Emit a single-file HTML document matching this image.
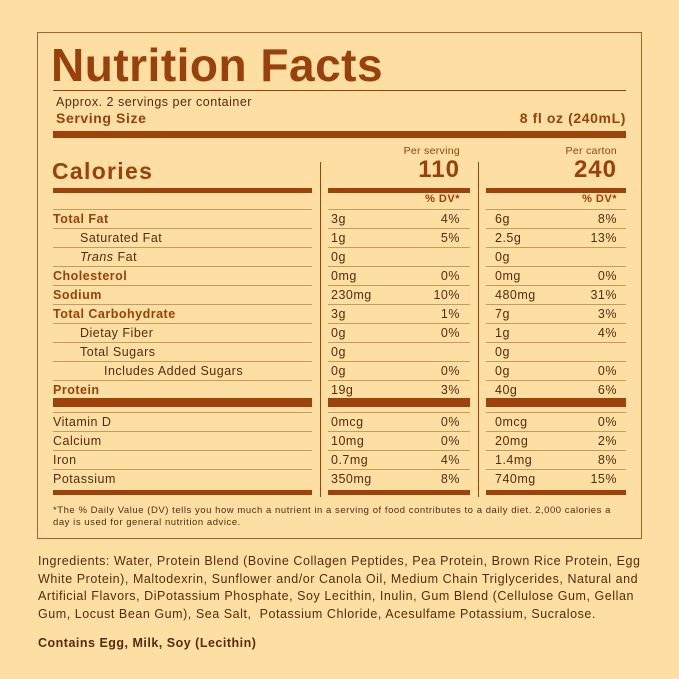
<!DOCTYPE html><html><head><style>
*{margin:0;padding:0;box-sizing:border-box}
body{width:679px;height:679px;background:#fddfa4;font-family:"Liberation Sans",sans-serif;color:#5a2a0c;position:relative;overflow:hidden}
.a{position:absolute;white-space:nowrap}
.b{color:#9a400c}
.bar{position:absolute;background:#9e420d}
.ln{position:absolute;height:1px;background:#c89a60}
.r{font-size:12.5px;line-height:19px;height:19px;letter-spacing:0.5px}
.bold{font-weight:bold}
</style></head><body>
<div class="a" style="left:37px;top:32px;width:605px;height:507px;border:1px solid #a8622a"></div>
<div class="a b bold" style="left:51px;top:40px;font-size:46px;line-height:50px;letter-spacing:0.5px">Nutrition Facts</div>
<div class="bar" style="left:53px;top:90px;width:573px;height:1px"></div>
<div class="a" style="left:56px;top:95px;font-size:12.5px;letter-spacing:0.5px">Approx. 2 servings per container</div>
<div class="a b bold" style="left:56px;top:110px;font-size:14px;letter-spacing:0.6px">Serving Size</div>
<div class="a b bold" style="right:53px;top:110px;font-size:14px;letter-spacing:0.6px">8 fl oz (240mL)</div>
<div class="bar" style="left:53px;top:131px;width:573px;height:7px"></div>
<div class="bar" style="left:320px;top:162px;width:1px;height:335px"></div>
<div class="bar" style="left:478px;top:162px;width:1px;height:335px"></div>
<div class="a b bold" style="left:52px;top:158px;font-size:23px;letter-spacing:1.3px">Calories</div>
<div class="bar" style="left:53px;top:188px;width:259px;height:5px"></div>
<div class="bar" style="left:328px;top:188px;width:142px;height:5px"></div>
<div class="bar" style="left:486px;top:188px;width:140px;height:5px"></div>
<div class="a b" style="right:219px;top:145px;font-size:10.5px;letter-spacing:0.3px">Per serving</div>
<div class="a b bold" style="right:219px;top:156px;font-size:24px;letter-spacing:1px">110</div>
<div class="a b" style="right:62px;top:145px;font-size:10.5px;letter-spacing:0.3px">Per carton</div>
<div class="a b bold" style="right:62px;top:156px;font-size:24px;letter-spacing:1px">240</div>
<div class="a b bold" style="right:219px;top:193px;font-size:11px;letter-spacing:0.5px">% DV*</div>
<div class="a b bold" style="right:62px;top:193px;font-size:11px;letter-spacing:0.5px">% DV*</div>
<div id="rows"></div>
<div class="bar" style="left:53px;top:398px;width:259px;height:9px"></div>
<div class="bar" style="left:328px;top:398px;width:142px;height:9px"></div>
<div class="bar" style="left:486px;top:398px;width:140px;height:9px"></div>
<div class="bar" style="left:53px;top:490px;width:259px;height:5px"></div>
<div class="bar" style="left:328px;top:490px;width:142px;height:5px"></div>
<div class="bar" style="left:486px;top:490px;width:140px;height:5px"></div>
<div class="a" style="left:53px;top:505px;font-size:9.5px;line-height:12px;letter-spacing:0.55px">*The % Daily Value (DV) tells you how much a nutrient in a serving of food contributes to a daily diet. 2,000 calories a<br>day is used for general nutrition advice.</div>
<div class="a" style="left:38px;top:553px;font-size:12.5px;line-height:17.6px;letter-spacing:0.55px">Ingredients: Water, Protein Blend (Bovine Collagen Peptides, Pea Protein, Brown Rice Protein, Egg<br>White Protein), Maltodexrin, Sunflower and/or Canola Oil, Medium Chain Triglycerides, Natural and<br>Artificial Flavors, DiPotassium Phosphate, Soy Lecithin, Inulin, Gum Blend (Cellulose Gum, Gellan<br>Gum, Locust Bean Gum), Sea Salt,&nbsp; Potassium Chloride, Acesulfame Potassium, Sucralose.</div>
<div class="a bold" style="left:38px;top:636px;font-size:12.5px;letter-spacing:0.5px">Contains Egg, Milk, Soy (Lecithin)</div>
<script>
var rows=[
[209,'Total Fat',53,1,'3g','4%','6g','8%'],
[228,'Saturated Fat',80,0,'1g','5%','2.5g','13%'],
[247,'<i>Trans</i> Fat',80,0,'0g','','0g',''],
[266,'Cholesterol',53,1,'0mg','0%','0mg','0%'],
[285,'Sodium',53,1,'230mg','10%','480mg','31%'],
[304,'Total Carbohydrate',53,1,'3g','1%','7g','3%'],
[323,'Dietay Fiber',80,0,'0g','0%','1g','4%'],
[342,'Total Sugars',80,0,'0g','','0g',''],
[361,'Includes Added Sugars',104,0,'0g','0%','0g','0%'],
[380,'Protein',53,1,'19g','3%','40g','6%'],
[412,'Vitamin D',53,0,'0mcg','0%','0mcg','0%'],
[431,'Calcium',53,0,'10mg','0%','20mg','2%'],
[450,'Iron',53,0,'0.7mg','4%','1.4mg','8%'],
[469,'Potassium',53,0,'350mg','8%','740mg','15%']];
var h='';
rows.forEach(function(r,i){var y=r[0];
h+='<div class="ln" style="left:53px;top:'+y+'px;width:259px"></div><div class="ln" style="left:328px;top:'+y+'px;width:142px"></div><div class="ln" style="left:486px;top:'+y+'px;width:140px"></div>';
h+='<div class="a r'+(r[3]?' b bold':'')+'" style="left:'+r[2]+'px;top:'+(y+1)+'px">'+r[1]+'</div>';
h+='<div class="a r" style="left:331px;top:'+(y+1)+'px">'+r[4]+'</div><div class="a r" style="right:219px;top:'+(y+1)+'px">'+r[5]+'</div>';
h+='<div class="a r" style="left:495px;top:'+(y+1)+'px">'+r[6]+'</div><div class="a r" style="right:62px;top:'+(y+1)+'px">'+r[7]+'</div>';
});
document.getElementById('rows').innerHTML=h;
</script>
</body></html>
